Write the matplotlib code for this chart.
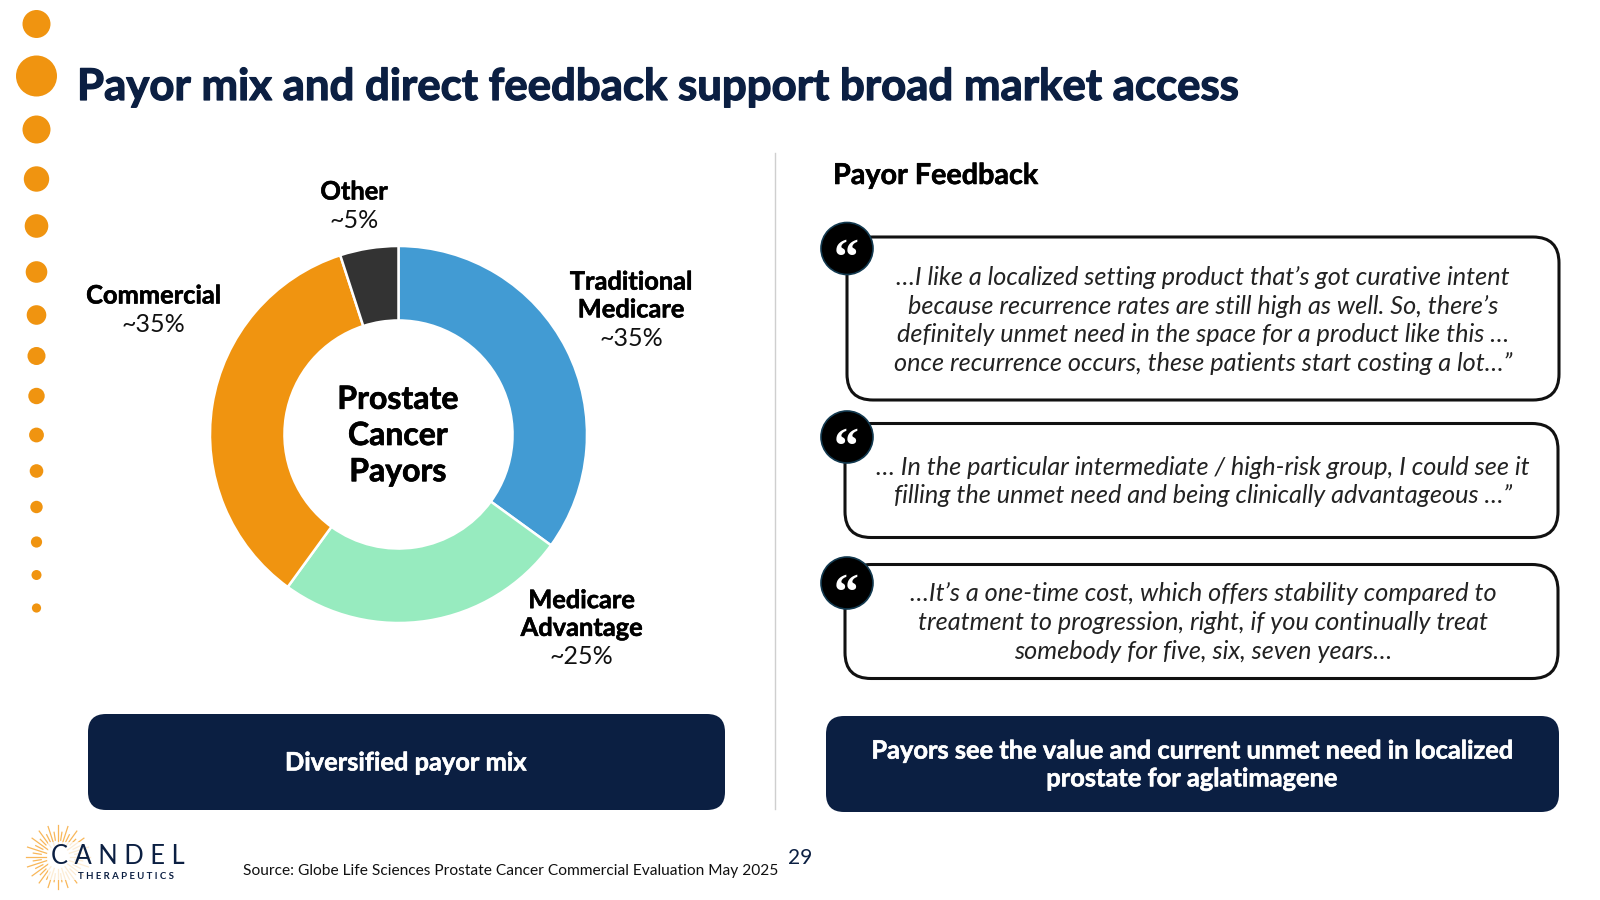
import numpy as np
import matplotlib
matplotlib.use("Agg")
import matplotlib.pyplot as plt
import matplotlib.patheffects as pe
from matplotlib.patches import Circle, FancyBboxPatch

plt.rcParams['font.family'] = ['Lato', 'DejaVu Sans']

# ---- data ----
segments = ["Traditional\nMedicare", "Medicare\nAdvantage", "Commercial", "Other"]
shares = [35, 25, 35, 5]
share_labels = ["~35%", "~25%", "~35%", "~5%"]
colors = ["#429BD3", "#97EBBF", "#F09410", "#333333"]
center_label = "Prostate\nCancer\nPayors"
title = "Payor mix and direct feedback support broad market access"
quotes = [
    "…I like a localized setting product that’s got curative intent\nbecause recurrence rates are still high as well. So, there’s\ndefinitely unmet need in the space for a product like this …\nonce recurrence occurs, these patients start costing a lot…”",
    "… In the particular intermediate / high-risk group, I could see it\nfilling the unmet need and being clinically advantageous …”",
    "…It’s a one-time cost, which offers stability compared to\ntreatment to progression, right, if you continually treat\nsomebody for five, six, seven years…",
]
left_banner = "Diversified payor mix"
right_banner = "Payors see the value and current unmet need in localized\nprostate for aglatimagene"
source = "Source: Globe Life Sciences Prostate Cancer Commercial Evaluation May 2025"

NAVY = "#0B1F42"
ORANGE = "#F09410"
W, H = 1600, 900


def heavy(width, color):
    return [pe.withStroke(linewidth=width, foreground=color)]


fig = plt.figure(figsize=(16, 9), dpi=100, facecolor="white")
ax = fig.add_axes([0, 0, 1, 1])
ax.set_xlim(0, W)
ax.set_ylim(H, 0)
ax.axis("off")

# decorative dots
dot_y = [24, 76, 129.5, 179, 226, 272, 315, 356, 396, 435, 471, 507, 542, 575, 608]
dot_r = [14, 20.5, 14, 12.7, 11.8, 10.8, 9.8, 9, 8.2, 7.4, 6.8, 6.2, 5.6, 5, 4.6]
for y, r in zip(dot_y, dot_r):
    ax.add_patch(Circle((36.5, y), r, fc=ORANGE, ec="none"))

ax.text(77, 87, title, fontsize=31.5, fontweight="bold", color=NAVY, va="center", ha="left",
        path_effects=heavy(0.9, NAVY))

# donut
cx, cy, R = 398.5, 434.5, 188.5
pie_ax = fig.add_axes([(cx - R) / W, 1 - (cy + R) / H, 2 * R / W, 2 * R / H])
pie_ax.pie(shares, colors=colors, startangle=90, counterclock=False, radius=1,
           wedgeprops=dict(width=0.395, edgecolor="white", linewidth=1.8))
pie_ax.set_xlim(-1, 1)
pie_ax.set_ylim(-1, 1)
pie_ax.set_zorder(1)

ax.set_zorder(2)
ax.patch.set_alpha(0)
ax.text(398, 435.5, center_label, fontsize=23, fontweight="bold", color="black",
        ha="center", va="center", linespacing=1.30, path_effects=heavy(0.5, "black"))

# segment labels
label_pos = [(631, 296), (581.5, 614.5), (153.5, 296), (354, 192)]
pct_y = [338, 656.5, 324, 220]
for name, pct, (x, y), py in zip(segments, share_labels, label_pos, pct_y):
    ax.text(x, y, name, fontsize=18.3, fontweight="bold", color="black",
            ha="center", va="center", linespacing=1.25, path_effects=heavy(0.4, "black"))
    ax.text(x, py, pct, fontsize=18, color="#111111", ha="center", va="center")

# divider
ax.plot([775, 775], [153, 809], color="#CFCFCF", lw=1)

ax.text(833, 176, "Payor Feedback", fontsize=20.7, fontweight="bold", color="black",
        ha="left", va="center", path_effects=heavy(0.4, "black"))

# quote boxes
boxes = [(847, 237, 712, 163), (845, 423.5, 713, 114), (845, 564.5, 713, 114)]
badge_y = [248.5, 437, 583]
text_y = [320.5, 481.5, 622.5]
text_x = [1203, 1203, 1203]
for (x, y, w, h), by, q, ty, tx in zip(boxes, badge_y, quotes, text_y, text_x):
    ax.add_patch(FancyBboxPatch((x + 26, y + 26), w - 52, h - 52,
                                boxstyle="round,pad=26,rounding_size=26",
                                fc="white", ec="#111111", lw=2.2))
    ax.add_patch(Circle((847, by), 26, fc="black", ec="#12394F", lw=1.2, zorder=3))
    ax.text(846, by + 12.5, "“", fontsize=36, fontweight="bold", color="white",
            family=["Liberation Serif"], ha="center", va="center", zorder=4)
    ax.text(tx, ty, q, fontsize=18.2, style="italic", color="#222222",
            ha="center", va="center", linespacing=1.29)

# banners
for (x, y, w, h), txt in zip([(88, 714, 637, 96), (826, 716, 733, 96)], [left_banner, right_banner]):
    ax.add_patch(FancyBboxPatch((x + 18, y + 18), w - 36, h - 36,
                                boxstyle="round,pad=18,rounding_size=18", fc=NAVY, ec="none"))
    ax.text(x + w / 2 - 1, y + h / 2 + 1, txt, fontsize=18.3, fontweight="bold", color="white",
            ha="center", va="center", linespacing=1.25, path_effects=heavy(0.4, "white"))

# logo
lx, ly = 58, 857
angles = np.deg2rad(np.arange(0, 360, 9))
for i, a in enumerate(angles):
    r0 = 12 + (i % 2) * 5
    r1 = 32 if i % 2 == 0 else 25
    ax.plot([lx + r0 * np.cos(a), lx + r1 * np.cos(a)], [ly + r0 * np.sin(a), ly + r1 * np.sin(a)],
            color="#F8B75A", lw=0.9, zorder=1)
ax.add_patch(plt.Rectangle((48, 842), 140, 38, fc="white", ec="none", alpha=0.75, zorder=2))
ax.text(51, 856, "C A N D E L", fontsize=18.4, color=NAVY, ha="left", va="center", zorder=3)
ax.text(78, 876.5, "T H E R A P E U T I C S", fontsize=6.9, fontweight="bold", color=NAVY, ha="left",
        va="center", zorder=3)

ax.text(243, 871, source, fontsize=11.2, color="#111111", ha="left", va="center")
ax.text(800, 858, "29", fontsize=15, color=NAVY, ha="center", va="center")

fig.savefig("out.png", dpi=100)
